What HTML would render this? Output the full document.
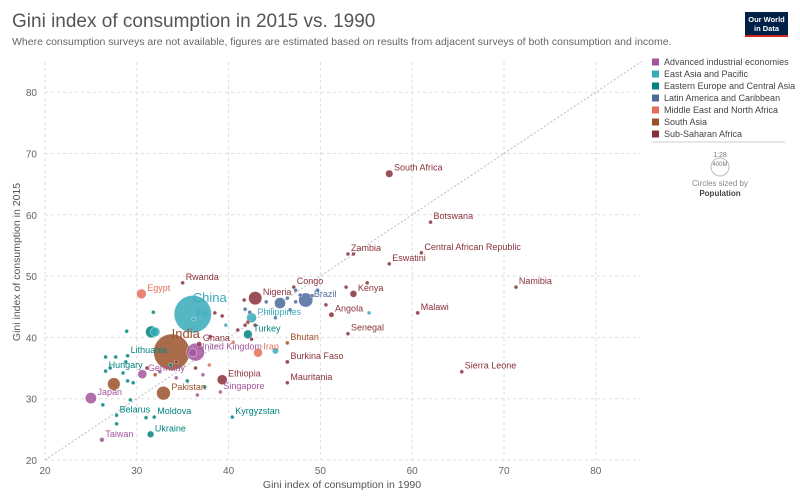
<!DOCTYPE html>
<html><head><meta charset="utf-8"><style>
body{margin:0;background:#fff;font-family:"Liberation Sans",sans-serif}
svg text{font-family:"Liberation Sans",sans-serif}
</style></head><body>
<svg width="800" height="499" xmlns="http://www.w3.org/2000/svg">
<text x="12" y="27" font-family="Liberation Serif" font-size="19" fill="#555">Gini index of consumption in 2015 vs. 1990</text>
<text x="12" y="45" font-size="10.5" fill="#666">Where consumption surveys are not available, figures are estimated based on results from adjacent surveys of both consumption and income.</text>
<g><rect x="745" y="12" width="43" height="25" fill="#002147"/><rect x="745" y="35" width="43" height="2" fill="#ce261e"/>
<text x="766.5" y="22" font-size="7.5" fill="#fff" text-anchor="middle" font-weight="bold">Our World</text><text x="766.5" y="31" font-size="7.5" fill="#fff" text-anchor="middle" font-weight="bold">in Data</text></g>
<g id="grid"></g><g id="axes"></g><g id="marks"></g><g id="labels"></g>
<text x="342" y="488" font-size="10.5" fill="#555" text-anchor="middle">Gini index of consumption in 1990</text>
<text transform="translate(20,262) rotate(-90)" font-size="10.5" fill="#555" text-anchor="middle">Gini index of consumption in 2015</text>
<g id="legend"></g>
<g>
<line x1="652" y1="142" x2="785" y2="142" stroke="#ccc"/>
<text x="720" y="157" font-size="7" fill="#777" text-anchor="middle">1:28</text>
<circle cx="720" cy="167" r="9" fill="none" stroke="#bbb"/>
<text x="720" y="166" font-size="6" fill="#777" text-anchor="middle">400M</text>
<text x="720" y="186" font-size="8" fill="#888" text-anchor="middle">Circles sized by</text>
<text x="720" y="196" font-size="8" fill="#444" text-anchor="middle" font-weight="bold">Population</text>
</g>
</svg>
<script>
const regionNames=["Advanced industrial economies","East Asia and Pacific","Eastern Europe and Central Asia","Latin America and Caribbean","Middle East and North Africa","South Asia","Sub-Saharan Africa"];
const regionColors=["#a2559c","#38aaba","#00847e","#4c6a9c","#e56e5a","#9a5129","#883039"];
const xTicks=[20,30,40,50,60,70,80];
const yTicks=[20,30,40,50,60,70,80];
const names=["South Africa","Botswana","Zambia","Central African Republic","Eswatini","Namibia","Malawi","Sierra Leone","Kenya","Angola","Senegal","Congo","Brazil","Nigeria","Philippines","Turkey","Bhutan","Iran","Burkina Faso","Mauritania","Ethiopia","Singapore","Kyrgyzstan","Ukraine","Moldova","Belarus","Taiwan","Japan","Hungary","Lithuania","Germany","Pakistan","United Kingdom","India","China","Ghana","Rwanda","Egypt","Fiji",
"","","","","","","","","","","","","","","","","","","","","","","","","","","","","","","","","","","","","","","","","","","","","","","","","","","",""];
const gini1990=[57.5,62.0,53.0,61.0,57.5,71.3,60.6,65.4,53.6,51.2,53.0,47.1,48.4,42.9,42.5,42.1,46.4,43.2,46.4,46.4,39.3,39.1,40.4,31.5,31.9,27.8,26.2,25.0,26.6,29.0,30.6,32.9,36.1,33.8,36.1,36.8,35.0,30.5,36.2,
28.9,31.8,26.6,27.7,27.1,28.8,28.5,29.0,26.3,29.3,27.8,31.0,29.6,31.1,32.0,32.5,34.3,37.9,37.2,36.4,34.3,33.7,35.5,37.4,36.6,41.7,41.8,42.3,42.1,41.8,42.9,38.5,39.3,39.7,41.0,38.0,40.5,42.5,44.1,45.6,46.4,47.3,47.8,46.7,49.7,50.6,52.8,55.1,55.3,47.3,49.1,53.6,45.1,31.6,32.0,27.5,36.4,45.1];
const gini2015=[66.7,58.8,53.6,53.8,52.0,48.2,44.0,34.4,47.1,43.7,40.6,48.2,46.1,46.4,43.2,40.5,39.1,37.5,36.0,32.6,33.1,31.1,27.0,24.2,27.0,27.3,23.3,30.1,34.5,37.0,34.0,30.9,37.5,37.6,43.8,38.9,48.9,47.1,43.0,
41.0,44.1,36.8,36.8,35.0,36.0,34.2,32.9,29.0,29.8,25.9,26.9,32.6,35.0,33.9,34.4,33.4,35.5,33.9,35.0,36.0,35.5,32.9,31.9,30.6,46.1,44.6,44.1,42.5,42.0,42.0,44.0,43.5,42.0,41.2,40.1,39.2,39.7,45.8,45.6,46.4,45.8,46.9,44.5,47.7,45.3,48.2,48.9,44.0,47.7,46.8,53.6,43.2,40.9,40.9,32.4,37.6,37.8];
const region=[6,6,6,6,6,6,6,6,6,6,6,6,3,6,1,2,5,4,6,6,6,0,2,2,2,2,0,0,2,2,0,5,0,5,1,6,6,4,1,
2,2,2,2,2,2,2,2,2,2,2,2,2,6,5,0,0,4,0,6,6,2,2,2,0,6,3,3,6,6,6,6,6,1,6,6,4,6,3,3,3,3,3,3,3,6,6,6,1,3,3,6,3,2,1,5,0,1];
const population=[56,2.2,16,4.7,1.1,2.4,17,7,48,28,15,5,205,180,100,78,0.8,79,18,4,100,5.6,6,45,3.5,9.5,23,127,9.8,2.9,82,190,65,1310,1400,27,11,95,0.9,
3,3,3,3,3,3,3,3,3,3,3,3,3,3,3,3,3,8,3,3,3,3,3,3,3,3,3,3,3,3,3,3,3,3,3,3,3,3,3,125,10,3,3,3,3,3,3,3,3,3,3,3,3,144,92,160,320,40];
const X=v=>45+(v-20)*9.18, Y=v=>460-(v-20)*6.13;
const R=p=>Math.max(2,0.5*Math.sqrt(p));
const NS="http://www.w3.org/2000/svg";
function mk(t,a,p){const e=document.createElementNS(NS,t);for(const k in a)e.setAttribute(k,a[k]);document.getElementById(p).appendChild(e);return e;}
xTicks.forEach(t=>{const l=mk('line',{x1:X(t),x2:X(t),y1:62,y2:460,stroke:'#ddd','stroke-dasharray':'3,3'},'grid');


const tx=mk('text',{x:X(t),y:474,'font-size':10,fill:'#666','text-anchor':'middle'},'axes');tx.textContent=t;

});
yTicks.forEach(t=>{const l=mk('line',{x1:45,x2:640,y1:Y(t),y2:Y(t),stroke:'#ddd','stroke-dasharray':'3,3'},'grid');


const tx=mk('text',{x:37,y:Y(t)+4,'font-size':10,fill:'#666','text-anchor':'end'},'axes');tx.textContent=t;

});
const dl=mk('line',{x1:X(20),y1:Y(20),x2:X(85),y2:Y(85),stroke:'#bbb','stroke-dasharray':'2,2'},'grid');


const idx=gini1990.map((_,i)=>i).sort((a,b)=>population[b]-population[a]);
idx.forEach(i=>{const r=R(population[i]);
const c=mk('circle',{cx:X(gini1990[i]),cy:Y(gini2015[i]),r:r,fill:regionColors[region[i]],'fill-opacity':0.85,stroke:'#fff','stroke-width':0.4},'marks');


if(names[i]){const big=population[i]>1000;
const t=mk('text',{x:big?X(gini1990[i]):X(gini1990[i])+r+1,y:big?Y(gini2015[i])-(names[i]==='India'?14:12):Y(gini2015[i])-3,'font-size':big?13:9,fill:regionColors[region[i]]},'labels');
t.textContent=names[i];

}});
regionNames.forEach((n,i)=>{const y=62+i*12;
const r=mk('rect',{x:652,y:y-3.5,width:7,height:7,fill:regionColors[i]},'legend');


const t=mk('text',{x:664,y:y+3,'font-size':9,fill:'#444'},'legend');t.textContent=n;

});
</script>
</body></html>
